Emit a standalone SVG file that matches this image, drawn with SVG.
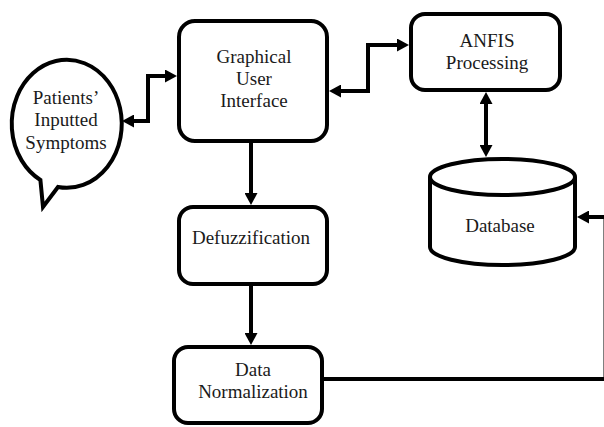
<svg xmlns="http://www.w3.org/2000/svg" width="604" height="427" viewBox="0 0 604 427">
  <style>
    .box { fill: #ffffff; stroke: #000000; stroke-width: 4; }
    .lbl { font-family: "Liberation Serif", "Times New Roman", serif; font-size: 19px; fill: #1a1a1a; text-anchor: middle; }
    .wire { fill: none; stroke: #000000; stroke-width: 4; stroke-linejoin: miter; }
  </style>
  <defs>
    <marker id="head" viewBox="0 0 12 13" refX="8" refY="6.5" markerWidth="12" markerHeight="13" markerUnits="userSpaceOnUse" orient="auto-start-reverse">
      <path d="M0,0 L12,6.5 L0,13 z" fill="#000000"/>
    </marker>
  </defs>
  <rect width="604" height="427" fill="#ffffff"/>

  <!-- connectors -->
  <g id="connectors">
    <path class="wire" d="M126,121 H148 V76 H173" marker-start="url(#head)" marker-end="url(#head)"/>
    <path class="wire" d="M333,91 H368 V45 H405" marker-start="url(#head)" marker-end="url(#head)"/>
    <path class="wire" d="M251,143 V201" marker-end="url(#head)"/>
    <path class="wire" d="M251,286 V341" marker-end="url(#head)"/>
    <path class="wire" d="M486,96 V153" marker-start="url(#head)" marker-end="url(#head)"/>
    <path class="wire" d="M324,379 H605.5 V217 H581" marker-end="url(#head)"/>
  </g>

  <!-- speech bubble -->
  <g id="symptoms">
    <path class="box" d="M58,187 A55,64 0 1 0 40.4,180 L43,207 Z"/>
    <text class="lbl" x="66" y="104">Patients’</text>
    <text class="lbl" x="66" y="126">Inputted</text>
    <text class="lbl" x="66" y="149">Symptoms</text>
  </g>

  <g id="gui">
    <rect class="box" x="179" y="21" width="148" height="120" rx="16"/>
    <text class="lbl" x="254" y="63">Graphical</text>
    <text class="lbl" x="254" y="85">User</text>
    <text class="lbl" x="254" y="107">Interface</text>
  </g>

  <g id="anfis">
    <rect class="box" x="411" y="14" width="149" height="76" rx="14"/>
    <text class="lbl" x="487" y="47">ANFIS</text>
    <text class="lbl" x="487" y="69">Processing</text>
  </g>

  <g id="database">
    <path class="box" d="M430,177 A72.5,18 0 0 1 575,177 V247 A72.5,18 0 0 1 430,247 Z"/>
    <path class="box" fill="none" d="M430,177 A72.5,18 0 0 0 575,177"/>
    <text class="lbl" x="500" y="232">Database</text>
  </g>

  <g id="defuzzification">
    <rect class="box" x="179" y="207" width="148" height="77" rx="14"/>
    <text class="lbl" x="251" y="244">Defuzzification</text>
  </g>

  <g id="normalization">
    <rect class="box" x="174" y="347" width="148" height="76" rx="14"/>
    <text class="lbl" x="253" y="376">Data</text>
    <text class="lbl" x="253" y="398">Normalization</text>
  </g>
</svg>
